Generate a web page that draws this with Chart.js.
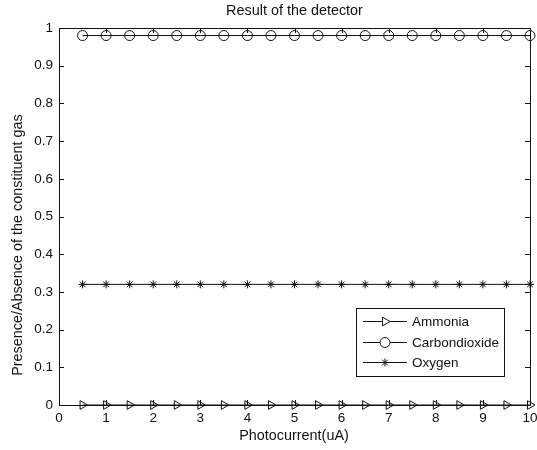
<!DOCTYPE html>
<html>
<head>
<meta charset="utf-8">
<script src="https://cdn.jsdelivr.net/npm/chart.js@4/dist/chart.umd.min.js"></script>
<style>
html,body{margin:0;padding:0;background:#fff;}
#wrap{width:537px;height:450px;}
</style>
</head>
<body>
<div id="wrap"><canvas id="c" width="537" height="450"></canvas></div>
<script>
const chartTitle = "Result of the detector";
const xTitle = "Photocurrent(uA)";
const yTitle = "Presence/Absence of the constituent gas";
const photocurrent = [0.5,1,1.5,2,2.5,3,3.5,4,4.5,5,5.5,6,6.5,7,7.5,8,8.5,9,9.5,10];
const ammonia = [0,0,0,0,0,0,0,0,0,0,0,0,0,0,0,0,0,0,0,0];
const carbondioxide = [0.98,0.98,0.98,0.98,0.98,0.98,0.98,0.98,0.98,0.98,0.98,0.98,0.98,0.98,0.98,0.98,0.98,0.98,0.98,0.98];
const oxygen = [0.32,0.32,0.32,0.32,0.32,0.32,0.32,0.32,0.32,0.32,0.32,0.32,0.32,0.32,0.32,0.32,0.32,0.32,0.32,0.32];
const seriesNames = ["Ammonia","Carbondioxide","Oxygen"];
const xTicks = [0,1,2,3,4,5,6,7,8,9,10];
const yTicks = [0,0.1,0.2,0.3,0.4,0.5,0.6,0.7,0.8,0.9,1];

const FONT = "'Liberation Sans', Arial, Helvetica, sans-serif";
const INK = '#111';

function pts(ys){ return photocurrent.map((x,i)=>({x:x,y:ys[i]})); }

const styles = [
  {pointStyle:'triangle', rotation:90, radius:5},
  {pointStyle:'circle', rotation:0, radius:5},
  {pointStyle:'star', rotation:0, radius:4}
];
const series = [ammonia, carbondioxide, oxygen];

const datasets = series.map((s,i)=>({
  label: seriesNames[i],
  data: pts(s),
  borderColor: INK,
  backgroundColor: 'rgba(0,0,0,0)',
  borderWidth: 1,
  pointStyle: styles[i].pointStyle,
  pointRotation: styles[i].rotation,
  pointRadius: styles[i].radius,
  pointBorderColor: INK,
  pointBackgroundColor: 'rgba(0,0,0,0)',
  pointBorderWidth: 1,
  fill: false,
  tension: 0,
  clip: false
}));

const decor = {
  id: 'decor',
  beforeDatasetsDraw(chart){
    const {ctx, chartArea:a, scales:{x,y}} = chart;
    ctx.save();
    ctx.strokeStyle = INK;
    ctx.lineWidth = 1;
    ctx.beginPath();
    ctx.rect(Math.round(a.left)+0.5, Math.round(a.top)+0.5, Math.round(a.right-a.left), Math.round(a.bottom-a.top));
    ctx.stroke();
    const L = 5;
    ctx.beginPath();
    xTicks.forEach(v=>{
      const px = Math.round(x.getPixelForValue(v))+0.5;
      ctx.moveTo(px, a.bottom); ctx.lineTo(px, a.bottom-L);
      ctx.moveTo(px, a.top); ctx.lineTo(px, a.top+L);
    });
    yTicks.forEach(v=>{
      const py = Math.round(y.getPixelForValue(v))+0.5;
      ctx.moveTo(a.left, py); ctx.lineTo(a.left+L, py);
      ctx.moveTo(a.right, py); ctx.lineTo(a.right-L, py);
    });
    ctx.stroke();
    ctx.restore();
  },
  afterDraw(chart){
    const {ctx, chartArea:a} = chart;
    ctx.save();
    ctx.fillStyle = INK;
    ctx.font = "14.4px " + FONT;
    ctx.textAlign = 'center';
    ctx.textBaseline = 'middle';
    ctx.fillText(chartTitle, 294.5, 11);
    ctx.fillText(xTitle, 294, 436);
    ctx.save();
    ctx.translate(18, 245);
    ctx.rotate(-Math.PI/2);
    ctx.fillText(yTitle, 0, 0);
    ctx.restore();

    // legend box
    const bx = 356, by = 308, bw = 148, bh = 68;
    ctx.fillStyle = '#fff';
    ctx.fillRect(bx, by, bw, bh);
    ctx.strokeStyle = INK;
    ctx.lineWidth = 1;
    ctx.strokeRect(bx+0.5, by+0.5, bw, bh);
    const rows = [321, 342, 362];
    ctx.font = "13.5px " + FONT;
    chart.data.datasets.forEach((ds, i)=>{
      const yy = rows[i] + 0.5;
      ctx.strokeStyle = INK;
      ctx.beginPath();
      ctx.moveTo(363, yy); ctx.lineTo(407, yy);
      ctx.stroke();
      ctx.fillStyle = '#fff';
      Chart.helpers.drawPoint(ctx, {pointStyle: ds.pointStyle, rotation: ds.pointRotation, radius: ds.pointRadius, borderWidth: 1}, 385, yy);
      ctx.fillStyle = INK;
      ctx.textAlign = 'left';
      ctx.textBaseline = 'middle';
      ctx.fillText(ds.label, 412, rows[i]+1);
    });
    ctx.restore();
  }
};

new Chart(document.getElementById('c'), {
  type: 'line',
  data: { datasets: datasets },
  options: {
    responsive: false,
    animation: false,
    devicePixelRatio: 1,
    layout: { padding: { left: 0, right: 7, top: 28, bottom: 0 } },
    plugins: { legend: {display:false}, title: {display:false}, tooltip: {enabled:false} },
    scales: {
      x: {
        type: 'linear', min: 0, max: 10,
        afterFit(s){ s.height = 45; s.paddingLeft = 0; s.paddingRight = 0; },
        afterBuildTicks(s){ s.ticks = xTicks.map(v=>({value:v})); },
        grid: { display: false, drawTicks: false },
        border: { display: false },
        ticks: { color: INK, font: {family: FONT, size: 13.5}, padding: 5, maxRotation: 0, autoSkip: false,
          callback: v => String(v) }
      },
      y: {
        type: 'linear', min: 0, max: 1,
        afterFit(s){ s.width = 59; s.paddingTop = 0; s.paddingBottom = 0; },
        afterBuildTicks(s){ s.ticks = yTicks.map(v=>({value:v})); },
        grid: { display: false, drawTicks: false },
        border: { display: false },
        ticks: { color: INK, font: {family: FONT, size: 13.5}, padding: 6, autoSkip: false,
          callback: v => String(Math.round(v*10)/10) }
      }
    }
  },
  plugins: [decor]
});
</script>
</body>
</html>
